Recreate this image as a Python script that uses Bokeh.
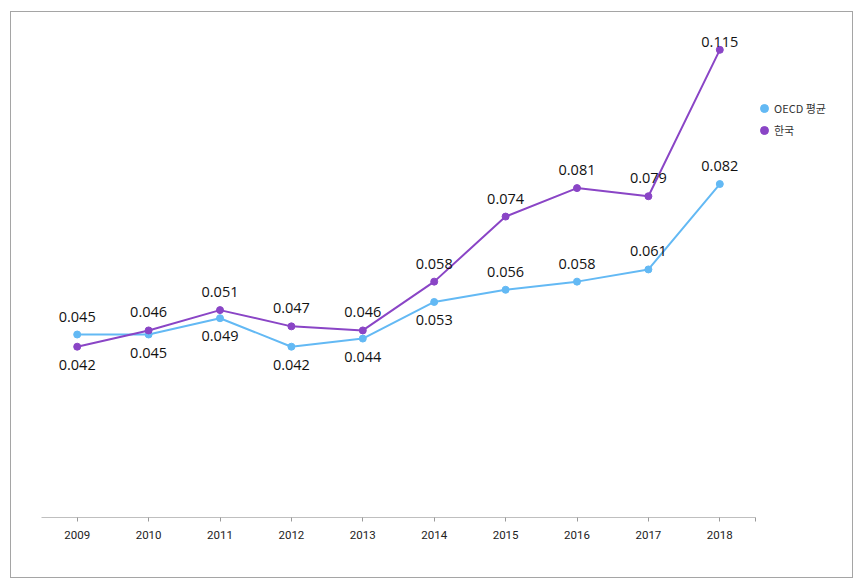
from bokeh.plotting import figure
from bokeh.models import ColumnDataSource, Range1d, Legend, LegendItem, FixedTicker
from bokeh.embed import file_html
from bokeh.resources import INLINE
from bokeh.core.properties import value

years = [2009, 2010, 2011, 2012, 2013, 2014, 2015, 2016, 2017, 2018]
year_labels = ["2009", "2010", "2011", "2012", "2013", "2014", "2015", "2016", "2017", "2018"]
oecd = [0.045, 0.045, 0.049, 0.042, 0.044, 0.053, 0.056, 0.058, 0.061, 0.082]
korea = [0.042, 0.046, 0.051, 0.047, 0.046, 0.058, 0.074, 0.081, 0.079, 0.115]
oecd_label_side = ["above", "below", "below", "below", "below", "below", "above", "above", "above", "above"]
korea_label_side = ["below", "above", "above", "above", "above", "above", "above", "above", "above", "top"]

OECD_COLOR = "#63B9F4"
KOREA_COLOR = "#8A45C6"

# frame spans to the right edge so the legend can sit beside the axis
x0 = years[0] - 0.5
x1 = years[-1] + 0.5
p = figure(
    x_range=Range1d(x0, x0 + 813 / 71.4),
    y_range=Range1d(0, 0.12),
    width=843, height=567,
    output_backend="svg", toolbar_location=None,
    y_axis_location=None,
    min_border_left=30, min_border_right=0, min_border_top=17, min_border_bottom=62,
)
p.styles = {"border": "1px solid #a5a5a5", "margin": "11px 0 0 10px"}
p.outline_line_color = None
p.xgrid.grid_line_color = None
p.ygrid.grid_line_color = None
p.background_fill_color = "white"
p.border_fill_color = "white"

ax = p.xaxis[0]
ax.ticker = FixedTicker(ticks=years + [x1])
ax.major_label_overrides = {**{y: l for y, l in zip(years, year_labels)}, x1: ""}
ax.bounds = (x0, x1)
ax.axis_line_color = "#bfbfbf"
ax.axis_line_width = 1
ax.major_tick_line_color = "#9a9a9a"
ax.major_tick_in = 0
ax.major_tick_out = 4
ax.minor_tick_line_color = None
ax.major_label_text_font = "Liberation Sans Narrow, Roboto"
ax.major_label_text_font_size = "11.5px"
ax.major_label_text_color = "#222222"
ax.major_label_standoff = 9

OFFS = {"above": -18, "below": 18, "top": -8}

def off(sides):
    return [OFFS[s] for s in sides]

src_o = ColumnDataSource(dict(x=years, y=oecd, lab=[f"{v:.3f}" for v in oecd], dy=off(oecd_label_side)))
src_k = ColumnDataSource(dict(x=years, y=korea, lab=[f"{v:.3f}" for v in korea], dy=off(korea_label_side)))

lo = p.line("x", "y", source=src_o, line_color=OECD_COLOR, line_width=2)
so = p.scatter("x", "y", source=src_o, size=7, fill_color=OECD_COLOR, line_color=OECD_COLOR)
lk = p.line("x", "y", source=src_k, line_color=KOREA_COLOR, line_width=2)
sk = p.scatter("x", "y", source=src_k, size=7, fill_color=KOREA_COLOR, line_color=KOREA_COLOR)

for src in (src_o, src_k):
    p.text("x", "y", text="lab", source=src, y_offset="dy",
           text_font=value("Open Sans"), text_font_size="14.5px", text_color="#111111",
           text_align="center", text_baseline="middle")

legend = Legend(items=[LegendItem(label="OECD 평균", renderers=[so]),
                       LegendItem(label="한국", renderers=[sk])],
                location=(713, 376), orientation="vertical",
                padding=0, margin=0, spacing=-4,
                glyph_width=20, glyph_height=22, label_standoff=0,
                label_text_font="Noto Sans CJK KR", label_text_font_size="11px",
                label_text_color="#333333",
                background_fill_alpha=0, border_line_color=None)
p.add_layout(legend, "center")

open("out.html", "w").write(file_html(p, INLINE))
